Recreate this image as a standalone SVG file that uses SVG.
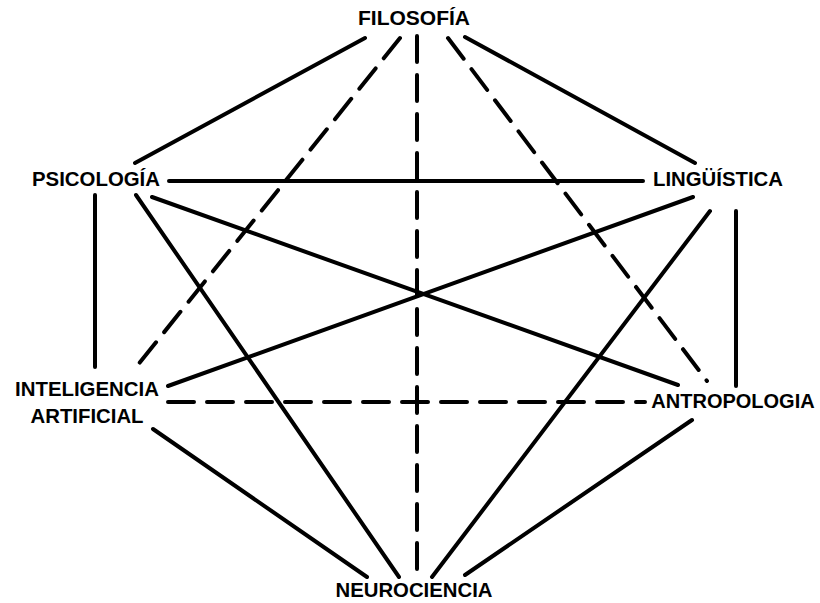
<svg xmlns="http://www.w3.org/2000/svg" width="820" height="603" viewBox="0 0 820 603">
<style>
.lbl{font-family:"Liberation Sans",Arial,sans-serif;font-weight:bold;font-size:21px;fill:#000;text-anchor:middle}
.s{stroke:#000;stroke-width:4;stroke-linecap:round;fill:none}
.d{stroke:#000;stroke-width:4;stroke-linecap:round;fill:none;stroke-dasharray:26 13}
</style>
<rect width="820" height="603" fill="#fff"/>
<g id="connectors">
<line class="s" x1="365" y1="38" x2="135" y2="163"/>
<line class="s" x1="465" y1="37" x2="695" y2="163"/>
<line class="s" x1="169" y1="181" x2="643" y2="181"/>
<line class="s" x1="95" y1="195" x2="95" y2="367"/>
<line class="s" x1="152" y1="197" x2="678" y2="385"/>
<line class="s" x1="136" y1="195" x2="399" y2="577"/>
<line class="s" x1="693" y1="197" x2="168" y2="386"/>
<line class="s" x1="736" y1="211" x2="736" y2="386"/>
<line class="s" x1="710" y1="211" x2="432" y2="577"/>
<line class="s" x1="153" y1="429" x2="367" y2="577"/>
<line class="s" x1="692" y1="420" x2="465" y2="575"/>
<line class="d" x1="400" y1="38" x2="137" y2="366"/>
<line class="d" x1="417" y1="36" x2="417" y2="577"/>
<line class="d" x1="448" y1="38" x2="707" y2="381"/>
<line class="d" x1="168" y1="402" x2="645" y2="402"/>
</g>
<g id="filosofia"><text class="lbl" x="414" y="25" textLength="112" lengthAdjust="spacingAndGlyphs">FILOSOFÍA</text></g>
<g id="psicologia"><text class="lbl" x="96" y="186" textLength="128" lengthAdjust="spacingAndGlyphs">PSICOLOGÍA</text></g>
<g id="linguistica"><text class="lbl" x="718" y="186" textLength="130" lengthAdjust="spacingAndGlyphs">LINGÜÍSTICA</text></g>
<g id="inteligencia-artificial"><text class="lbl" x="87" y="396" textLength="144" lengthAdjust="spacingAndGlyphs">INTELIGENCIA</text><text class="lbl" x="87" y="423" textLength="113" lengthAdjust="spacingAndGlyphs">ARTIFICIAL</text></g>
<g id="antropologia"><text class="lbl" x="733" y="408" style="font-size:20px">ANTROPOLOGIA</text></g>
<g id="neurociencia"><text class="lbl" x="414" y="597" textLength="157" lengthAdjust="spacingAndGlyphs">NEUROCIENCIA</text></g>
</svg>
